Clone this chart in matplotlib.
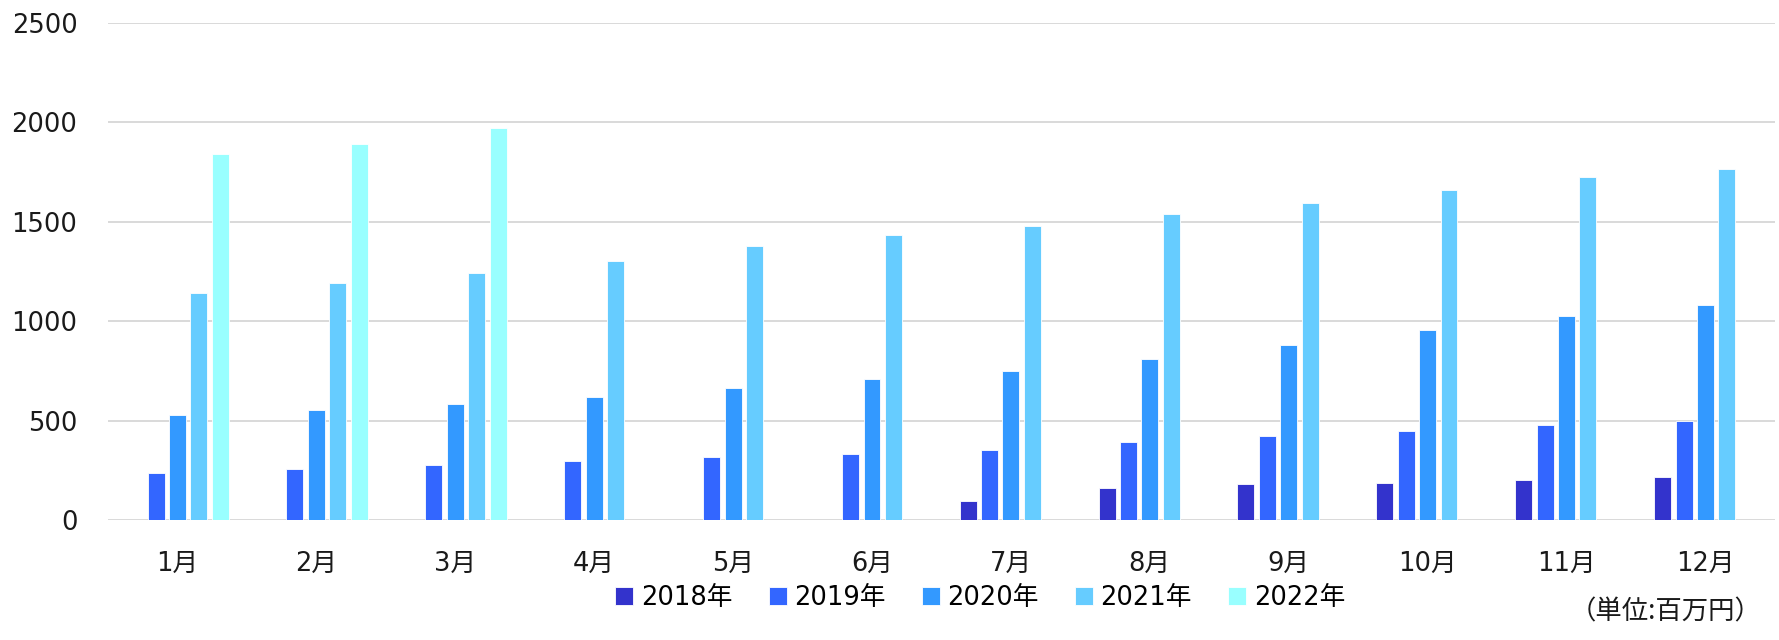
import numpy as np
import matplotlib
matplotlib.use("Agg")
import matplotlib.pyplot as plt

plt.rcParams['font.family'] = ['DejaVu Sans', 'Noto Sans CJK JP']

months = ['1月', '2月', '3月', '4月', '5月', '6月', '7月', '8月', '9月', '10月', '11月', '12月']
years = ['2018年', '2019年', '2020年', '2021年', '2022年']

# values in 百万円 (nan = no bar)
v2018 = [np.nan, np.nan, np.nan, np.nan, np.nan, np.nan, 95, 161, 179, 187, 203, 218]
v2019 = [236, 257, 277, 296, 316, 331, 352, 390, 421, 449, 478, 499]
v2020 = [527, 553, 584, 617, 666, 707, 751, 810, 881, 957, 1028, 1082]
v2021 = [1142, 1189, 1240, 1304, 1380, 1435, 1479, 1538, 1593, 1657, 1723, 1767]
v2022 = [1838, 1888, 1970, np.nan, np.nan, np.nan, np.nan, np.nan, np.nan, np.nan, np.nan, np.nan]

series = [v2018, v2019, v2020, v2021, v2022]
colors = ['#3333CC', '#3366FF', '#3399FF', '#66CCFF', '#99FFFF']

fig = plt.figure(figsize=(17.79, 6.4), dpi=100)
ax = fig.add_axes([0.0607, 0.1875, 0.937, 0.777])

x = np.arange(len(months))
step = 0.154
width = 0.122
for i, (vals, c, lab) in enumerate(zip(series, colors, years)):
    ax.bar(x + (i - 2) * step, vals, width=width, color=c, label=lab,
           edgecolor='white', linewidth=0.6, zorder=3)

ax.set_xlim(-0.5, len(months) - 0.5)
ax.set_ylim(0, 2500)
ax.set_yticks([0, 500, 1000, 1500, 2000, 2500])
ax.set_xticks(x)
ax.set_xticklabels(months)
ax.tick_params(axis='both', length=0, labelsize=18.5, colors='#1a1a1a')
ax.tick_params(axis='x', pad=22)
ax.tick_params(axis='y', pad=22)
ax.yaxis.grid(True, color='#D9D9D9', linewidth=1.4, zorder=0)
for s in ax.spines.values():
    s.set_visible(False)

fig.legend(loc='center', bbox_to_anchor=(0.551, 0.066), ncol=5, frameon=False,
           fontsize=18.5, handlelength=0.7, handleheight=0.7, handletextpad=0.3,
           columnspacing=1.4)

fig.text(0.99, 0.022, '（単位:百万円）', ha='right', va='bottom', fontsize=19,
         family=['Noto Sans CJK JP', 'DejaVu Sans'], color='#1a1a1a')

fig.savefig('out.png', dpi=100)
